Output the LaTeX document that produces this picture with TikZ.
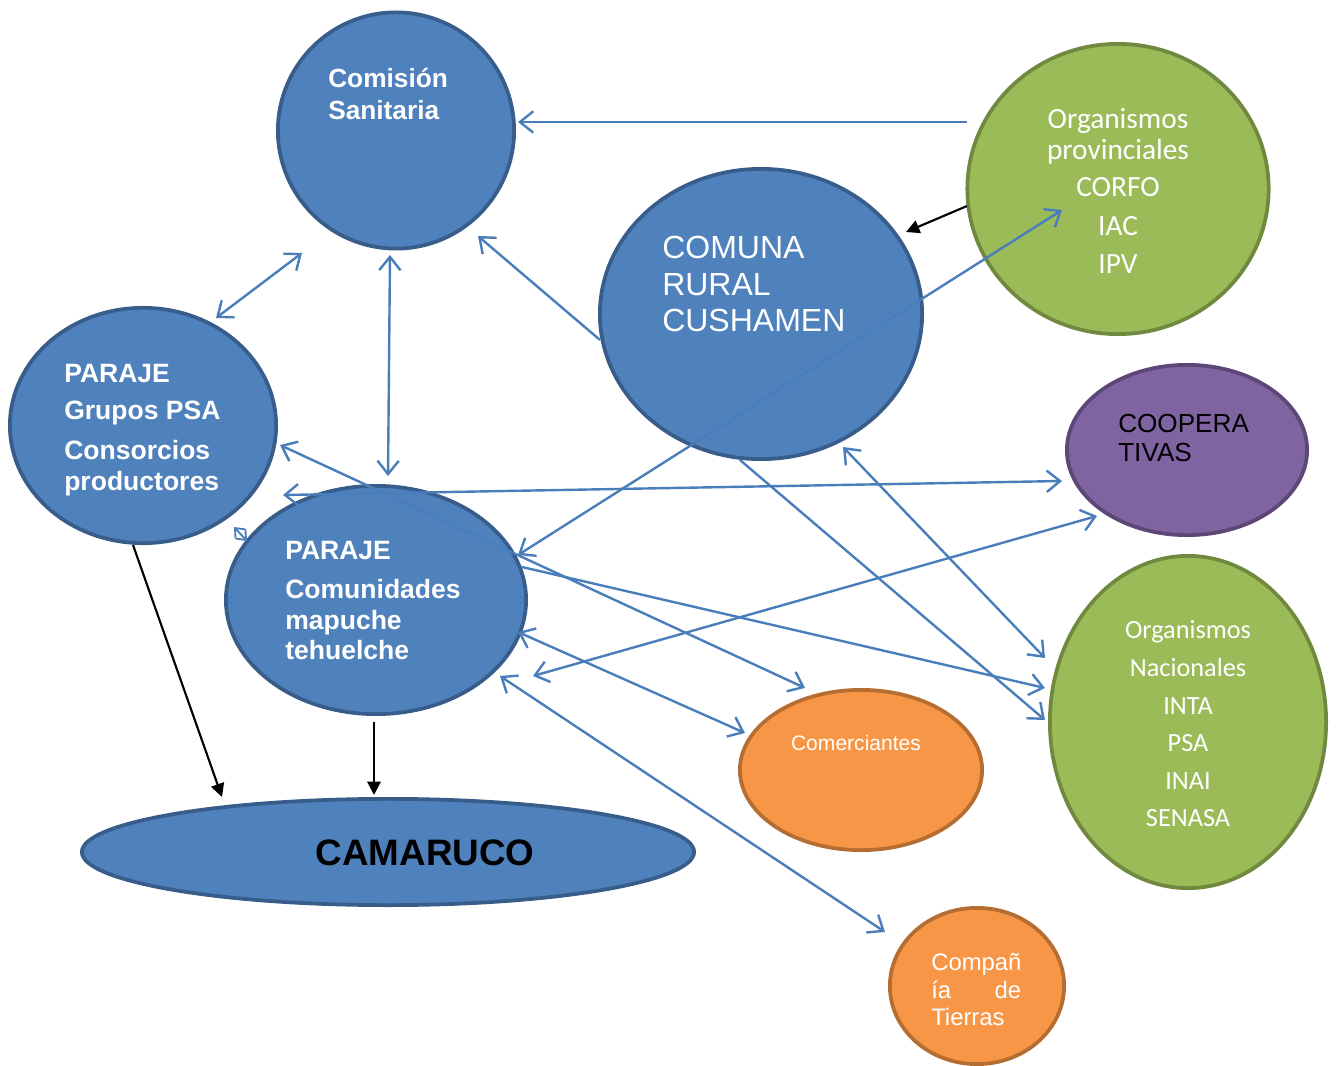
\documentclass[tikz,border=0pt]{standalone}
\usepackage{fontspec}
\setmainfont{Liberation Sans}
\newfontfamily\calib{Carlito}
\usetikzlibrary{shapes.geometric,arrows.meta}
\definecolor{bfill}{HTML}{4F81BD}
\definecolor{bline}{HTML}{385D8A}
\definecolor{gfill}{HTML}{9BBB59}
\definecolor{gline}{HTML}{71893F}
\definecolor{pfill}{HTML}{8064A2}
\definecolor{pline}{HTML}{5C4776}
\definecolor{ofill}{HTML}{F79646}
\definecolor{oline}{HTML}{B66D31}
\definecolor{conblue}{HTML}{4A7EBB}
\tikzset{
  shp/.style={ellipse, line width=2.8pt, inner sep=0pt},
  blueshape/.style={shp, fill=bfill, draw=bline},
  greenshape/.style={shp, fill=gfill, draw=gline},
  purpleshape/.style={shp, fill=pfill, draw=pline},
  orangeshape/.style={shp, fill=ofill, draw=oline},
  lbl/.style={inner sep=0pt, text=white},
  oneway/.style={draw=conblue, line width=1.8pt, -{Straight Barb[length=10pt,width=16pt]}},
  twoway/.style={draw=conblue, line width=1.8pt, {Straight Barb[length=10pt,width=16pt]}-{Straight Barb[length=10pt,width=16pt]}},
  blackarrow/.style={draw=black, line width=1.6pt, -{Triangle[length=10pt,width=10pt]}}
}
\begin{document}
\begin{tikzpicture}[x=0.75pt,y=-0.75pt]
\useasboundingbox (0,0) rectangle (1339,1066);
% shapes
\node[blueshape, minimum width=177.2pt, minimum height=177.2pt] (comision) at (396,130.5) {};
\node[blueshape, minimum width=241.7pt, minimum height=217.7pt] (comuna) at (761,314) {};
\node[greenshape, minimum width=226pt, minimum height=217.7pt] (orgprov) at (1118,189) {};
\node[blueshape, minimum width=199.7pt, minimum height=176.5pt] (grupos) at (143,425.5) {};
\node[blueshape, minimum width=225.2pt, minimum height=171.2pt] (comunidades) at (376,600) {};
\node[blueshape, minimum width=459.2pt, minimum height=79.7pt] (camaruco) at (388,852) {};
\node[purpleshape, minimum width=180.2pt, minimum height=127.7pt] (coop) at (1187,450) {};
\node[greenshape, minimum width=207.2pt, minimum height=249.2pt] (orgnac) at (1188,722) {};
\node[orangeshape, minimum width=181.7pt, minimum height=120.2pt] (comerc) at (861,770) {};
\node[orangeshape, minimum width=130.7pt, minimum height=117.2pt] (tierras) at (977,986) {};
% connector end points
\coordinate (a1) at (967,122); \coordinate (a2) at (518,122);
\coordinate (b1) at (967,206); \coordinate (b2) at (906,232);
\coordinate (c1) at (302,253); \coordinate (c2) at (216,318);
\coordinate (d1) at (390,255); \coordinate (d2) at (388,476);
\coordinate (e1) at (600,340); \coordinate (e2) at (478,236);
\coordinate (f1) at (518,555); \coordinate (f2) at (1062,210);
\coordinate (g1) at (280,445); \coordinate (g2) at (805,688);
\coordinate (h1) at (283,495); \coordinate (h2) at (1062,481);
\coordinate (i1) at (234,527); \coordinate (i2) at (247,541);
\coordinate (j1) at (522,567); \coordinate (j2) at (1045,688);
\coordinate (k1) at (1097,516); \coordinate (k2) at (533,676);
\coordinate (l1) at (518,632); \coordinate (l2) at (745,733);
\coordinate (m1) at (500,676); \coordinate (m2) at (885,932);
\coordinate (n1) at (740,460); \coordinate (n2) at (1045,720);
\coordinate (o1) at (843,447); \coordinate (o2) at (1045,658);
\coordinate (p1) at (133,545); \coordinate (p2) at (222,797);
\coordinate (q1) at (374,722); \coordinate (q2) at (374,795);
% connectors
\draw[oneway] (a1) -- (a2);
\draw[blackarrow] (b1) -- (b2);
\draw[twoway] (c1) -- (c2);
\draw[twoway] (d1) -- (d2);
\draw[oneway] (e1) -- (e2);
\draw[twoway] (f1) -- (f2);
\draw[twoway] (g1) -- (g2);
\draw[twoway] (h1) -- (h2);
\draw[draw=conblue, line width=1.4pt, {Straight Barb[length=6pt,width=10pt]}-{Straight Barb[length=6pt,width=10pt]}] (i1) -- (i2);
\draw[oneway] (j1) -- (j2);
\draw[twoway] (k1) -- (k2);
\draw[twoway] (l1) -- (l2);
\draw[twoway] (m1) -- (m2);
\draw[oneway] (n1) -- (n2);
\draw[twoway] (o1) -- (o2);
\draw[blackarrow] (p1) -- (p2);
\draw[blackarrow] (q1) -- (q2);
% texts
\node[lbl, anchor=west, align=left, font={\fontsize{19.7}{24}\selectfont\bfseries}] (tcomision) at (328,94) {Comisión\\Sanitaria};
\node[lbl, anchor=west, align=left, font={\fontsize{24}{27.4}\selectfont}] (tcomuna) at (662,284) {COMUNA\\RURAL\\CUSHAMEN};
\node[lbl, align=center, font={\calib\fontsize{22}{23.25}\selectfont}] (torgprov) at (1118,191) {Organismos\\provinciales\\[4.5pt]CORFO\\[6pt]IAC\\[5.25pt]IPV};
\node[lbl, anchor=west, align=left, font={\fontsize{19.9}{23.25}\selectfont\bfseries}] (tgrupos) at (64,430) {PARAJE\\[4.5pt]Grupos PSA\\[6.75pt]Consorcios\\productores};
\node[lbl, anchor=west, align=left, font={\fontsize{19.9}{22.9}\selectfont\bfseries}] (tcomunidades) at (285,600.5) {PARAJE\\[6.4pt]Comunidades\\mapuche\\tehuelche};
\node[inner sep=0pt, text=black, font={\fontsize{27.6}{30}\selectfont\bfseries}] (tcamaruco) at (425,853) {CAMARUCO};
\node[inner sep=0pt, text=black, anchor=west, align=left, font={\fontsize{19.6}{21.75}\selectfont}] (tcoop) at (1118,438) {COOPERA\\TIVAS};
\node[lbl, align=center, font={\calib\fontsize{19.7}{28.2}\selectfont}] (torgnac) at (1188,724) {Organismos\\Nacionales\\INTA\\PSA\\INAI\\SENASA};
\node[lbl, font={\fontsize{15.8}{18}\selectfont}] (tcomerc) at (856,743) {Comerciantes};
\node[lbl, anchor=west, align=left, font={\fontsize{17.9}{20.6}\selectfont}] (ttierras) at (931,990) {Compañ\\\makebox[67.5pt][l]{ía\hfill de}\\Tierras};
\end{tikzpicture}
\end{document}
